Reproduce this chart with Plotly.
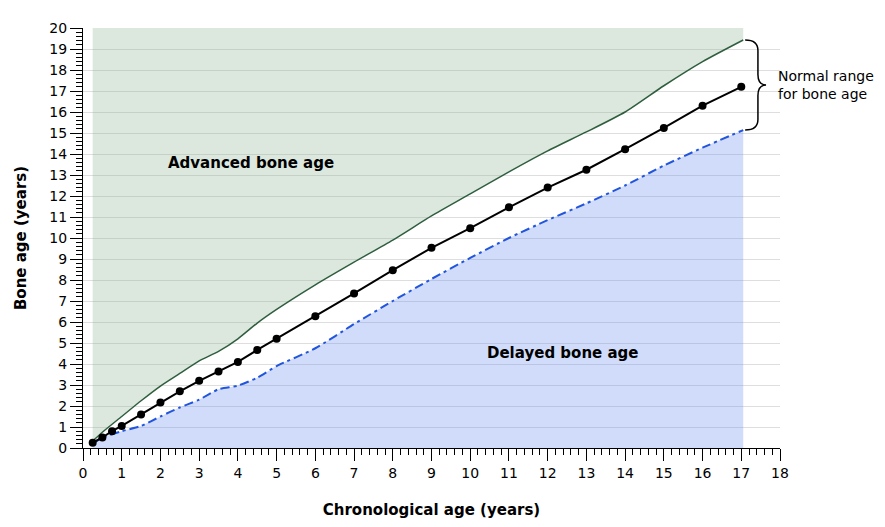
import plotly.graph_objects as go

# ---- data ----
mean_x = [0.25, 0.5, 0.75, 1, 1.5, 2, 2.5, 3, 3.5, 4, 4.5, 5, 6, 7, 8, 9, 10, 11, 12, 13, 14, 15, 16, 17]
mean_y = [0.25, 0.5, 0.8, 1.05, 1.6, 2.17, 2.7, 3.2, 3.64, 4.1, 4.67, 5.2, 6.27, 7.36, 8.47, 9.53,
          10.47, 11.46, 12.4, 13.25, 14.23, 15.24, 16.3, 17.2]

band_x = [0.25, 0.5, 1, 1.5, 2, 2.5, 3, 3.5, 4, 4.5, 5, 6, 7, 8, 9, 10, 11, 12, 13, 14, 15, 16, 17.05]
upper_y = [0.33, 0.75, 1.5, 2.25, 2.95, 3.55, 4.15, 4.6, 5.2, 5.95, 6.6, 7.77, 8.85, 9.9, 11.05,
           12.1, 13.15, 14.15, 15.05, 16.0, 17.25, 18.4, 19.43]
lower_y = [0.2, 0.5, 0.8, 1.05, 1.5, 1.93, 2.3, 2.8, 2.97, 3.35, 3.9, 4.75, 5.9, 7.0, 8.05,
           9.05, 10.0, 10.85, 11.65, 12.5, 13.45, 14.3, 15.14]

x_ticks = list(range(0, 19))
y_ticks = list(range(0, 21))
X_MAX = 18
Y_MAX = 20

FONT = "DejaVu Sans"

fig = go.Figure()

# top boundary for green fill
fig.add_trace(go.Scatter(x=[band_x[0], band_x[-1]], y=[Y_MAX, Y_MAX], mode="lines",
                         line=dict(width=0, color="rgba(0,0,0,0)"), hoverinfo="skip",
                         showlegend=False))
# upper curve with fill to top (advanced bone age region)
fig.add_trace(go.Scatter(x=band_x, y=upper_y, mode="lines", fill="tonexty",
                         fillcolor="rgba(140,180,145,0.30)",
                         line=dict(color="#2f5e3e", width=1.5, shape="spline", smoothing=0.6),
                         showlegend=False))
# lower curve with fill to zero (delayed bone age region)
fig.add_trace(go.Scatter(x=band_x, y=lower_y, mode="lines", fill="tozeroy",
                         fillcolor="rgba(100,140,240,0.30)",
                         line=dict(color="#2255dd", width=2, dash="9px,4px,3px,4px",
                                   shape="spline", smoothing=0.6),
                         showlegend=False))
# mean line
fig.add_trace(go.Scatter(x=mean_x, y=mean_y, mode="lines+markers",
                         line=dict(color="black", width=2),
                         marker=dict(color="black", size=8),
                         showlegend=False))

# brace for normal range
yt, yb = upper_y[-1], lower_y[-1]
ym = (yt + yb) / 2
x0, x1, x2 = 17.1, 17.43, 17.64
r = 0.5
path = (f"M {x0},{yt} Q {x1},{yt} {x1},{yt - r} L {x1},{ym + r} "
        f"Q {x1},{ym} {x2},{ym} Q {x1},{ym} {x1},{ym - r} "
        f"L {x1},{yb + r} Q {x1},{yb} {x0},{yb}")
fig.add_shape(type="path", path=path, xref="x", yref="y",
              line=dict(color="black", width=1.5), layer="above")

fig.add_annotation(x=4.34, y=13.55, text="<b>Advanced bone age</b>", showarrow=False,
                   font=dict(family=FONT, size=15, color="black"))
fig.add_annotation(x=12.39, y=4.53, text="<b>Delayed bone age</b>", showarrow=False,
                   font=dict(family=FONT, size=15, color="black"))
fig.add_annotation(x=17.9, y=ym, text="Normal range<br>for bone age", showarrow=False,
                   xanchor="left", align="left",
                   font=dict(family=FONT, size=14, color="black"))

fig.update_layout(
    width=877, height=519,
    margin=dict(l=72, r=105, t=17, b=78),
    paper_bgcolor="white", plot_bgcolor="white",
    font=dict(family=FONT, size=14, color="black"),
    xaxis=dict(range=[0, X_MAX], tickvals=x_ticks, ticks="outside", ticklen=12, tickwidth=1,
               tickcolor="black", showline=True, linecolor="black", linewidth=1,
               showgrid=False, zeroline=False, tickfont=dict(size=14),
               minor=dict(dtick=0.2, ticks="outside", ticklen=6, tickcolor="black", showgrid=False),
               title=dict(text="<b>Chronological age (years)</b>", font=dict(size=15), standoff=24)),
    yaxis=dict(range=[0, Y_MAX], tickvals=y_ticks, ticks="outside", ticklen=12, tickwidth=1,
               tickcolor="black", showline=True, linecolor="black", linewidth=1,
               showgrid=True, gridcolor="#dedede", gridwidth=1, zeroline=False,
               tickfont=dict(size=14),
               minor=dict(dtick=0.2, ticks="outside", ticklen=6, tickcolor="black", showgrid=False),
               title=dict(text="<b>Bone age (years)</b>", font=dict(size=15), standoff=19)),
)

fig.write_html("out.html")
